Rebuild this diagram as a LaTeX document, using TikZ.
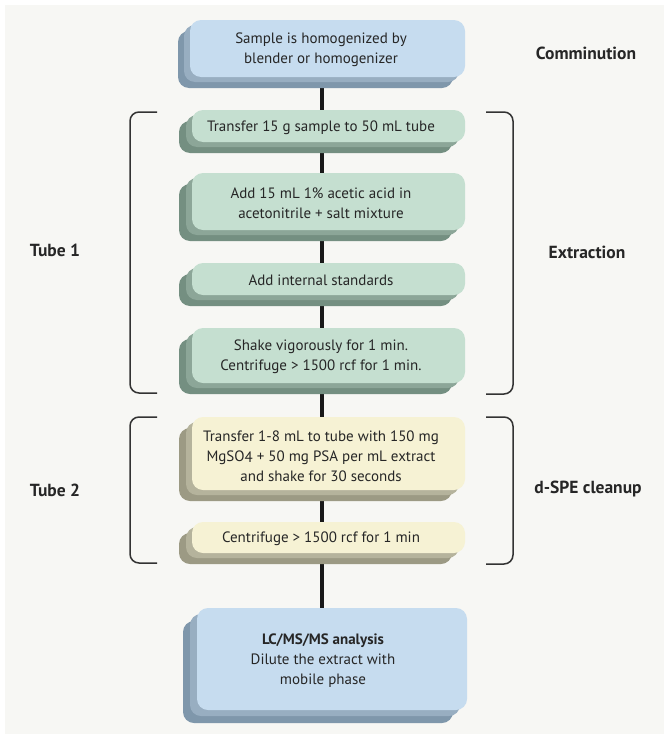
\documentclass[tikz,border=0pt]{standalone}
\usepackage{fontspec}
\setmainfont{PT Sans}
\usetikzlibrary{shadows}
\pgfdeclarelayer{back}
\pgfdeclarelayer{bg}
\pgfsetlayers{back,bg,main}
\definecolor{bgc}{HTML}{F7F7F4}
\definecolor{bluef}{HTML}{C6DCEF}
\definecolor{bluesA}{HTML}{7F97AB}
\definecolor{bluesB}{HTML}{98AEC1}
\definecolor{greenf}{HTML}{C5DFD0}
\definecolor{greensA}{HTML}{748F81}
\definecolor{greensB}{HTML}{8CA698}
\definecolor{yellowf}{HTML}{F6F2D4}
\definecolor{yellowsA}{HTML}{9C9A84}
\definecolor{yellowsB}{HTML}{B5B39C}
\definecolor{brkc}{HTML}{333333}
\tikzset{
  face/.style={rounded corners=11pt, inner sep=0pt, draw=none},
  bluebox/.style={face, fill=bluef,
    general shadow={shadow xshift=-12pt, shadow yshift=-11pt, fill=bluesA},
    general shadow={shadow xshift=-6pt, shadow yshift=-5pt, fill=bluesB}},
  bluebigbox/.style={face, fill=bluef,
    general shadow={shadow xshift=-14pt, shadow yshift=-13pt, fill=bluesA},
    general shadow={shadow xshift=-7pt, shadow yshift=-6pt, fill=bluesB}},
  greenbox/.style={face, fill=greenf,
    general shadow={shadow xshift=-13pt, shadow yshift=-11pt, fill=greensA},
    general shadow={shadow xshift=-6pt, shadow yshift=-5pt, fill=greensB}},
  yellowbox/.style={face, fill=yellowf,
    general shadow={shadow xshift=-13pt, shadow yshift=-11pt, fill=yellowsA},
    general shadow={shadow xshift=-6pt, shadow yshift=-5pt, fill=yellowsB}},
  boxtext/.style={align=center, inner sep=0pt, text=black!85,
    font=\fontsize{15}{20}\selectfont},
  sidelabel/.style={inner sep=0pt, text=black!85,
    font=\fontsize{17.5}{20}\selectfont\bfseries},
  conn/.style={line width=4pt, black!90},
  brk/.style={line width=1.5pt, brkc, rounded corners=9pt},
}
\begin{document}
\begin{tikzpicture}[x=1pt,y=-1pt]
\useasboundingbox (0,0) rectangle (669,739);
\begin{pgfonlayer}{back}
\fill[white] (0,0) rectangle (669,739);
\fill[bgc] (5,5) rectangle (664,734);
\end{pgfonlayer}

\coordinate (axis) at (322,0);

% faces
\node[bluebox, minimum width=275pt, minimum height=57pt] (b1) at (327.5,48.5) {};
\node[greenbox, minimum width=273pt, minimum height=32pt] (b2) at (328.5,126) {};
\node[greenbox, minimum width=273pt, minimum height=57pt] (b3) at (328.5,201.5) {};
\node[greenbox, minimum width=273pt, minimum height=32pt] (b4) at (328.5,279) {};
\node[greenbox, minimum width=273pt, minimum height=55pt] (b5) at (328.5,355.5) {};
\node[yellowbox, minimum width=273pt, minimum height=73pt] (b6) at (328.5,453.5) {};
\node[yellowbox, minimum width=273pt, minimum height=31pt] (b7) at (328.5,537.5) {};
\node[bluebigbox, minimum width=270pt, minimum height=102pt] (b8) at (332,659) {};

% texts
\node[boxtext] (t1) at (321,50) {Sample is homogenized by\\blender or homogenizer};
\node[boxtext] (t2) at (321,128) {Transfer 15 g sample to 50 mL tube};
\node[boxtext] (t3) at (321,203) {Add 15 mL 1\% acetic acid in\\acetonitrile + salt mixture};
\node[boxtext] (t4) at (321,280) {Add internal standards};
\node[boxtext] (t5) at (321,357) {Shake vigorously for 1 min.\\Centrifuge > 1500 rcf for 1 min.};
\node[boxtext] (t6) at (321,456) {Transfer 1-8 mL to tube with 150 mg\\MgSO\raisebox{-1.5pt}{4} + 50 mg PSA per mL extract\\and shake for 30 seconds};
\node[boxtext] (t7) at (321,539) {Centrifuge > 1500 rcf for 1 min};
\node[boxtext] (t8) at (323,661) {\textbf{LC/MS/MS analysis}\\Dilute the extract with\\mobile phase};

% connectors
\begin{pgfonlayer}{bg}
\draw[conn] (b1.south -| axis) -- (b2.north -| axis);
\draw[conn] (b2.south -| axis) -- (b3.north -| axis);
\draw[conn] (b3.south -| axis) -- (b4.north -| axis);
\draw[conn] (b4.south -| axis) -- (b5.north -| axis);
\draw[conn] (b5.south -| axis) -- (b6.north -| axis);
\draw[conn] (b6.south -| axis) -- (b7.north -| axis);
\draw[conn] (b7.south -| axis) -- (b8.north -| axis);
\end{pgfonlayer}

% brackets
\draw[brk] (157,112) -- (130,112) -- (130,393) -- (157,393);
\draw[brk] (486,112) -- (513,112) -- (513,394) -- (486,394);
\draw[brk] (157,417) -- (130,417) -- (130,563) -- (157,563);
\draw[brk] (486,417) -- (513,417) -- (513,564) -- (486,564);

% side labels
\node[sidelabel] (lcomm) at (586,53) {Comminution};
\node[sidelabel] (lext) at (587,252) {Extraction};
\node[sidelabel] (ldspe) at (588,489) {d-SPE cleanup};
\node[sidelabel] (ltube1) at (55,250) {Tube 1};
\node[sidelabel] (ltube2) at (55,490) {Tube 2};
\end{tikzpicture}
\end{document}
